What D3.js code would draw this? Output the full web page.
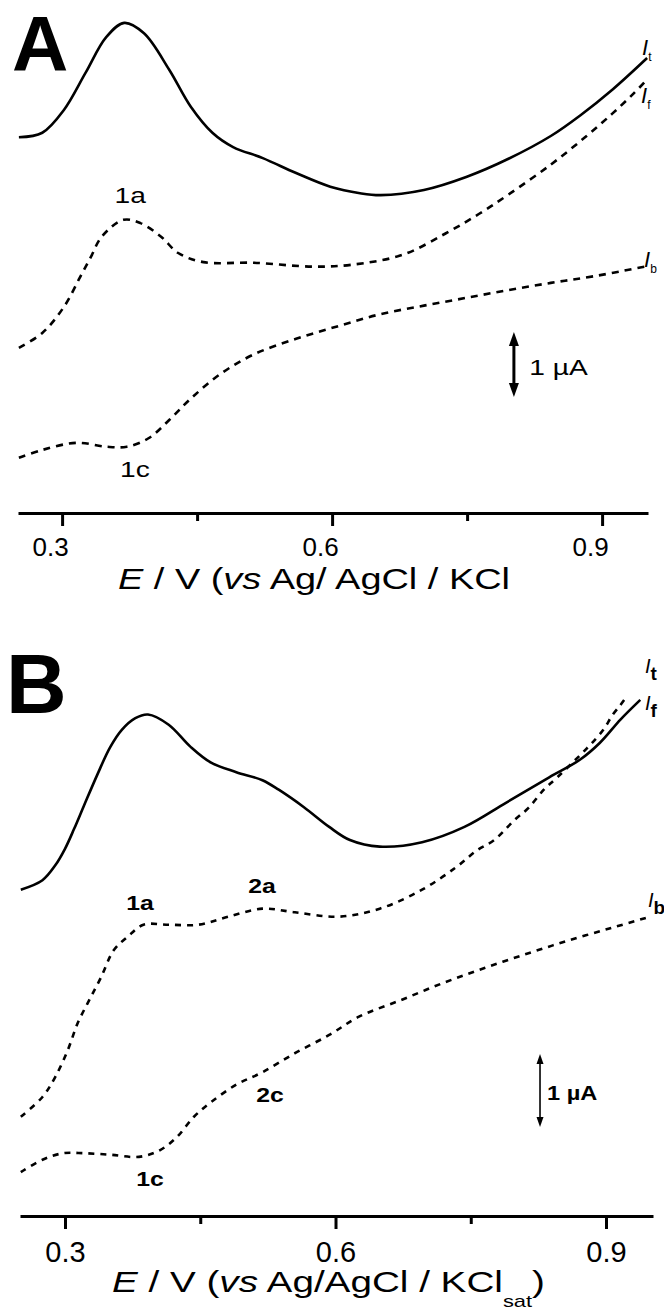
<!DOCTYPE html>
<html>
<head>
<meta charset="utf-8">
<script src="https://cdn.jsdelivr.net/npm/d3@7"></script>
<style>
  html, body { margin: 0; padding: 0; background: #fff; }
  svg { display: block; }
  text { font-family: "Liberation Sans", Arial, Helvetica, sans-serif; fill: #000; }
</style>
</head>
<body>
<svg id="chart" width="664" height="1315"></svg>
<script>
// ---- Data: potential E (V) and current I (µA, above each panel's baseline) ----

// Panel A
const A_It = [[0.252,5.78],[0.278,5.85],[0.302,6.20],[0.326,6.77],[0.349,7.32],[0.369,7.54],[0.391,7.38],
  [0.419,6.82],[0.443,6.25],[0.467,5.85],[0.490,5.63],[0.523,5.46],[0.560,5.23],[0.598,5.02],[0.631,4.92],
  [0.654,4.89],[0.702,4.97],[0.749,5.17],[0.796,5.45],[0.843,5.80],[0.876,6.12],[0.912,6.52],[0.950,7.00]];
const A_If = [[0.252,2.54],[0.278,2.77],[0.302,3.17],[0.320,3.63],[0.332,3.94],[0.344,4.25],[0.368,4.51],
  [0.387,4.46],[0.410,4.25],[0.429,4.00],[0.457,3.86],[0.513,3.85],[0.579,3.79],[0.622,3.82],[0.678,3.97],
  [0.726,4.30],[0.763,4.60],[0.796,4.90],[0.843,5.36],[0.881,5.78],[0.911,6.14],[0.934,6.44],[0.948,6.64]];
const A_Ib = [[0.252,0.85],[0.278,0.97],[0.316,1.08],[0.349,1.02],[0.372,1.02],[0.396,1.15],[0.419,1.43],
  [0.443,1.76],[0.476,2.14],[0.513,2.44],[0.560,2.68],[0.608,2.88],[0.654,3.06],[0.702,3.19],[0.749,3.31],
  [0.796,3.43],[0.843,3.54],[0.890,3.64],[0.947,3.79]];

// Panel B
const B_It = [[0.251,4.47],[0.275,4.60],[0.289,4.80],[0.300,5.03],[0.310,5.30],[0.321,5.62],[0.336,6.05],
  [0.350,6.42],[0.363,6.66],[0.378,6.82],[0.392,6.87],[0.415,6.73],[0.439,6.43],[0.462,6.21],[0.490,6.08],
  [0.519,5.97],[0.537,5.84],[0.565,5.60],[0.593,5.33],[0.616,5.15],[0.649,5.06],[0.696,5.12],[0.743,5.33],
  [0.789,5.66],[0.837,6.01],[0.871,6.25],[0.893,6.48],[0.916,6.80],[0.938,7.07]];
const B_If = [[0.251,1.36],[0.275,1.63],[0.289,1.90],[0.303,2.27],[0.314,2.64],[0.327,2.96],[0.340,3.27],
  [0.354,3.64],[0.369,3.82],[0.387,3.99],[0.415,3.99],[0.448,3.99],[0.481,4.10],[0.519,4.21],[0.555,4.16],
  [0.603,4.10],[0.649,4.21],[0.696,4.47],[0.734,4.78],[0.757,5.01],[0.776,5.15],[0.799,5.43],[0.814,5.59],
  [0.831,5.84],[0.846,6.01],[0.879,6.41],[0.897,6.66],[0.907,6.86],[0.916,7.00],[0.922,7.10]];
const B_Ib = [[0.251,0.60],[0.275,0.77],[0.298,0.86],[0.321,0.86],[0.350,0.84],[0.382,0.81],[0.405,0.90],
  [0.424,1.08],[0.443,1.36],[0.462,1.56],[0.490,1.80],[0.519,1.97],[0.555,2.23],[0.593,2.48],[0.626,2.73],
  [0.673,2.96],[0.719,3.19],[0.766,3.40],[0.814,3.60],[0.860,3.78],[0.907,3.95],[0.949,4.10]];

// Axis ticks
const majorTicks = [0.3, 0.6, 0.9];
const minorTicks = [0.45, 0.75];

const svg = d3.select("#chart");

// widen a text element horizontally by factor k
function stretch(sel, k) {
  const n = sel.node();
  const len = n.getComputedTextLength();
  sel.attr("textLength", len * k).attr("lengthAdjust", "spacingAndGlyphs");
  return sel;
}

function drawPanel(cfg) {
  const x = d3.scaleLinear().domain(cfg.xDomain).range(cfg.xRange);
  const y = d3.scaleLinear().domain([0, 1]).range([cfg.base, cfg.base - cfg.pxPerUA]);
  const g = svg.append("g");

  const line = d3.line().x(d => x(d[0])).y(d => y(d[1])).curve(d3.curveCatmullRom.alpha(0.5));

  cfg.series.forEach(s => {
    g.append("path")
      .attr("d", line(s.data))
      .attr("fill", "none")
      .attr("stroke", "#000")
      .attr("stroke-width", s.dashed ? cfg.dashWidth : cfg.solidWidth)
      .attr("stroke-dasharray", s.dashed ? cfg.dash : null)
      .attr("stroke-linejoin", "round");
  });

  // x axis
  const axis = d3.axisBottom(x)
    .tickValues(majorTicks.concat(minorTicks))
    .tickSizeInner(cfg.tickMajor)
    .tickSizeOuter(0)
    .tickPadding(0)
    .tickFormat(d => majorTicks.includes(d) ? d3.format(".1f")(d) : "");
  const ax = g.append("g").attr("transform", `translate(0,${cfg.base})`).call(axis);
  ax.select(".domain").attr("stroke", "#000").attr("stroke-width", 3);
  ax.selectAll(".tick line").attr("stroke", "#000").attr("stroke-width", 3)
    .attr("y2", d => majorTicks.includes(d) ? cfg.tickMajor : cfg.tickMinor);
  ax.selectAll(".tick text")
    .attr("y", cfg.tickLabelY).attr("dy", 0).attr("dx", cfg.tickLabelDx)
    .attr("font-size", cfg.tickFont).attr("fill", "#333")
    .attr("font-family", "Liberation Sans, Arial, sans-serif");

  // panel letter
  g.append("text").attr("x", cfg.letterX).attr("y", cfg.letterY)
    .attr("font-size", cfg.letterSize).attr("font-weight", "bold").text(cfg.letter);

  // scale arrow (1 µA)
  const ax0 = x(cfg.arrow.E), yTop = y(cfg.arrow.I + 1), yBot = y(cfg.arrow.I);
  const hl = cfg.arrow.head, hw = cfg.arrow.hw;
  g.append("line").attr("x1", ax0).attr("x2", ax0).attr("y1", yTop + hl * 0.5).attr("y2", yBot - hl * 0.5)
    .attr("stroke", "#000").attr("stroke-width", cfg.arrow.w);
  g.append("path").attr("d", `M${ax0},${yTop}L${ax0 - hw},${yTop + hl}L${ax0 + hw},${yTop + hl}Z`).attr("fill", "#000");
  g.append("path").attr("d", `M${ax0},${yBot}L${ax0 - hw},${yBot - hl}L${ax0 + hw},${yBot - hl}Z`).attr("fill", "#000");
  stretch(g.append("text").attr("x", x(cfg.uaLabel.E)).attr("y", y(cfg.uaLabel.I))
    .attr("font-size", cfg.uaLabel.size).attr("font-weight", cfg.labelWeight).text("1 µA"), cfg.labelStretch);

  // peak labels
  cfg.peaks.forEach(p => {
    stretch(g.append("text").attr("x", x(p.E)).attr("y", y(p.I)).attr("text-anchor", "middle")
      .attr("font-size", cfg.peakSize).attr("font-weight", cfg.labelWeight).text(p.t), cfg.labelStretch);
  });

  // curve labels I_t, I_f, I_b
  cfg.curveLabels.forEach(c => {
    const t = g.append("text").attr("x", x(c.E)).attr("y", y(c.I)).attr("font-size", cfg.ILabel.size);
    t.append("tspan").attr("font-style", "italic").text("I");
    t.append("tspan").attr("font-size", cfg.ILabel.sub).attr("dy", cfg.ILabel.subDy)
      .attr("font-weight", cfg.ILabel.subWeight).text(c.s);
  });

  // axis title
  const tt = g.append("text").attr("x", cfg.title.x).attr("y", cfg.title.y)
    .attr("font-size", cfg.title.size).attr("fill", "#111");
  tt.append("tspan").attr("font-style", "italic").text("E");
  tt.append("tspan").text(" / V (");
  tt.append("tspan").attr("font-style", "italic").text("vs");
  tt.append("tspan").text(cfg.title.ref);
  if (cfg.title.sub) {
    tt.append("tspan").attr("font-size", cfg.title.subSize).attr("dy", cfg.title.subDy).text(cfg.title.sub);
    tt.append("tspan").attr("dy", -cfg.title.subDy).text(")");
  }
  tt.attr("textLength", cfg.title.width).attr("lengthAdjust", "spacingAndGlyphs");
}

drawPanel({
  letter: "A", letterX: 12, letterY: 71, letterSize: 78,
  xDomain: [0.251, 0.951], xRange: [18, 648],
  base: 513, pxPerUA: 65,
  solidWidth: 2.6, dashWidth: 2.6, dash: "7,6",
  tickMajor: 13, tickMinor: 8, tickLabelY: 43, tickLabelDx: -12, tickFont: 26,
  series: [{ data: A_It }, { data: A_If, dashed: true }, { data: A_Ib, dashed: true }],
  arrow: { E: 0.802, I: 1.785, head: 14, hw: 5, w: 3 },
  labelWeight: "normal", labelStretch: 1.28,
  uaLabel: { E: 0.819, I: 2.12, size: 22 },
  peakSize: 22,
  peaks: [{ t: "1a", E: 0.3756, I: 4.77 }, { t: "1c", E: 0.381, I: 0.55 }],
  ILabel: { size: 22, sub: 12, subDy: 6, subWeight: "normal" },
  curveLabels: [{ s: "t", E: 0.9444, I: 7.05 }, { s: "f", E: 0.9433, I: 6.31 }, { s: "b", E: 0.9466, I: 3.78 }],
  title: { x: 118, y: 589, size: 30, width: 392, ref: " Ag/ AgCl / KCl" }
});

drawPanel({
  letter: "B", letterX: 6, letterY: 713, letterSize: 84,
  xDomain: [0.2501, 0.9521], xRange: [20, 653],
  base: 1216, pxPerUA: 73,
  solidWidth: 2.6, dashWidth: 2.6, dash: "6,6",
  tickMajor: 13, tickMinor: 8, tickLabelY: 46, tickLabelDx: 0, tickFont: 29,
  series: [{ data: B_It }, { data: B_If, dashed: true }, { data: B_Ib, dashed: true }],
  arrow: { E: 0.8268, I: 1.22, head: 10, hw: 3.5, w: 1.6 },
  labelWeight: "bold", labelStretch: 1.18,
  uaLabel: { E: 0.8346, I: 1.59, size: 20 },
  peakSize: 21,
  peaks: [{ t: "1a", E: 0.3832, I: 4.19 }, { t: "2a", E: 0.5185, I: 4.42 },
          { t: "2c", E: 0.5273, I: 1.56 }, { t: "1c", E: 0.3943, I: 0.41 }],
  ILabel: { size: 20, sub: 19, subDy: 7, subWeight: "bold" },
  curveLabels: [{ s: "t", E: 0.9432, I: 7.44 }, { s: "f", E: 0.9432, I: 6.93 }, { s: "b", E: 0.9466, I: 4.23 }],
  title: { x: 112, y: 1292, size: 30, width: 433, ref: " Ag/AgCl / KCl", sub: "sat", subSize: 17, subDy: 15 }
});
</script>
</body>
</html>
